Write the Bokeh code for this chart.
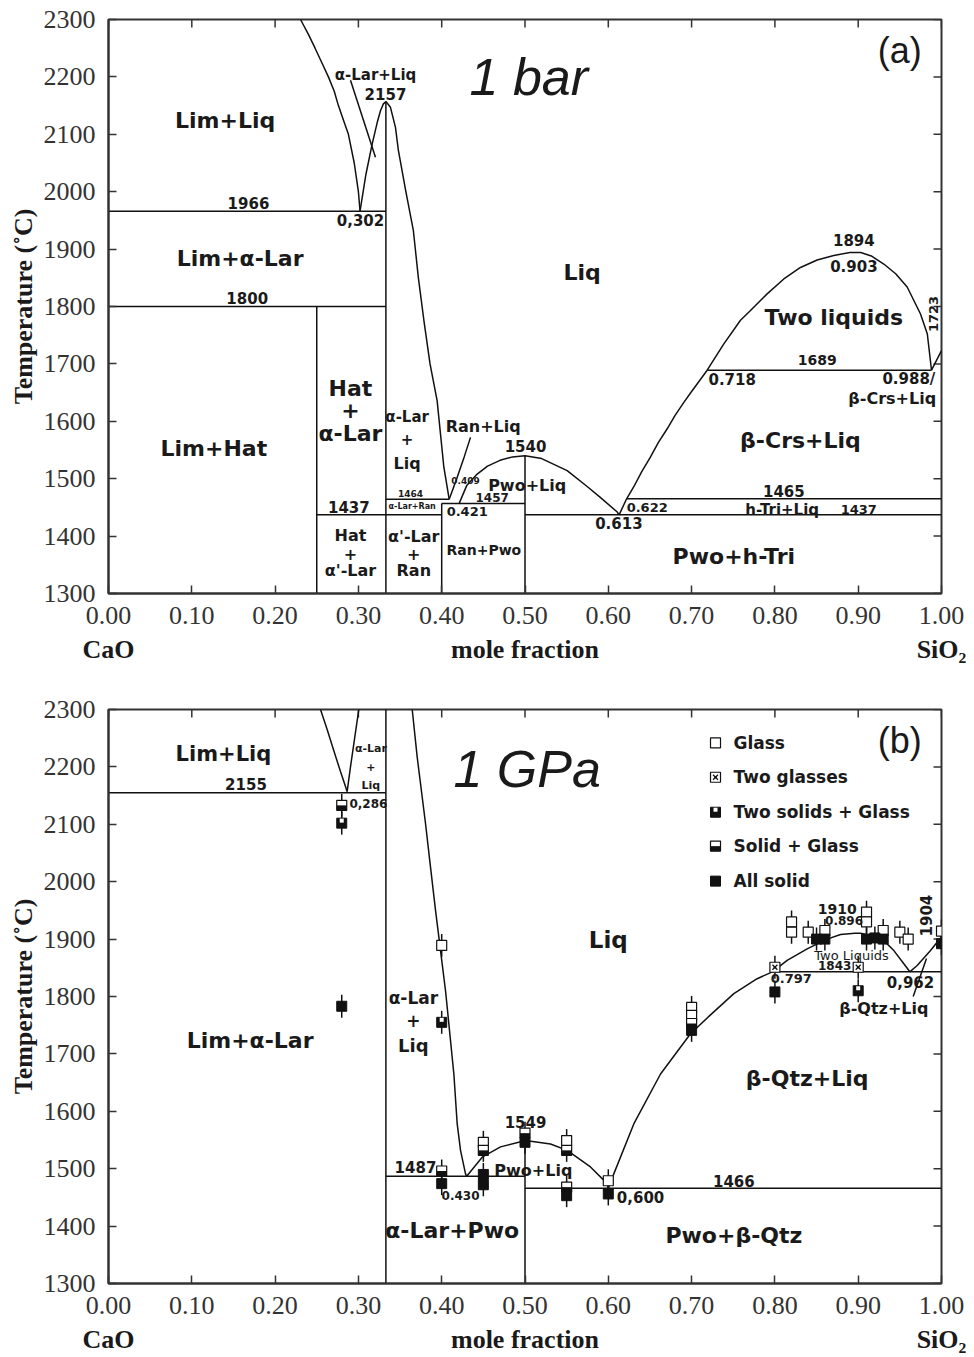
import numpy as np
from bokeh.plotting import figure
from bokeh.models import (LinearAxis, Label, ColumnDataSource, FixedTicker, NumeralTickFormatter,
                          Range1d, CustomJSTickFormatter)
from bokeh.layouts import column
from bokeh.embed import file_html
from bokeh.resources import INLINE
from bokeh.core.properties import value
from bokeh.transform import dodge

# ---------------- axes ----------------
X_TICKS = [0.0, 0.1, 0.2, 0.3, 0.4, 0.5, 0.6, 0.7, 0.8, 0.9, 1.0]
Y_TICKS = [1300, 1400, 1500, 1600, 1700, 1800, 1900, 2000, 2100, 2200, 2300]
X_MIN, X_MAX, T_MIN, T_MAX = 0.0, 1.0, 1300, 2300

# ---------------- panel (a): 1 bar ----------------
A_LIM_LIQ_X = [0.2305, 0.240, 0.248, 0.256, 0.264, 0.271, 0.276, 0.282, 0.288, 0.295, 0.300, 0.302]
A_LIM_LIQ_T = [2300, 2274, 2250, 2225, 2200, 2175, 2150, 2125, 2100, 2050, 2000, 1966]
A_LAR_LIQ_L_X = [0.302, 0.309, 0.3165, 0.3225, 0.3265, 0.3300, 0.3330]
A_LAR_LIQ_L_T = [1966, 2030, 2083, 2120, 2141, 2153, 2157]
A_LAR_LIQ_R_X = [0.3330, 0.3385, 0.3445, 0.3480, 0.3570, 0.3660, 0.3720, 0.3786, 0.3860, 0.3945, 0.4026, 0.4090]
A_LAR_LIQ_R_T = [2157, 2147, 2112, 2072, 2000, 1932, 1850, 1776, 1700, 1636, 1520, 1464]
A_RAN_LIQ_X = [0.409, 0.418, 0.427, 0.4346]
A_RAN_LIQ_T = [1464, 1500, 1538, 1572]
A_PWO_LIQ_X = [0.421, 0.430, 0.4426, 0.455, 0.470, 0.485, 0.500, 0.520, 0.5506, 0.575, 0.590, 0.6107, 0.613]
A_PWO_LIQ_T = [1457, 1488, 1508, 1522, 1532, 1538, 1540, 1535, 1514, 1486, 1468, 1442, 1437]
A_TRI_LIQ_X = [0.613, 0.622]
A_TRI_LIQ_T = [1437, 1465]
A_CRS_LIQ_X = [0.622, 0.6306, 0.640, 0.6507, 0.660, 0.6707, 0.680, 0.6907, 0.700, 0.7187]
A_CRS_LIQ_T = [1465, 1486, 1512, 1538, 1563, 1587, 1610, 1633, 1652, 1689]
A_GAP_X = [0.7187, 0.7387, 0.7587, 0.7707, 0.7907, 0.8107, 0.8307, 0.8507, 0.8707, 0.8900,
           0.903, 0.9157, 0.9307, 0.9450, 0.9588, 0.9748, 0.983, 0.988]
A_GAP_T = [1689, 1735, 1776, 1793, 1822, 1848, 1868, 1881, 1889, 1894,
           1894, 1888, 1874, 1857, 1834, 1787, 1752, 1689]
A_CRS_LIQ2_X = [0.988, 0.994, 1.0]
A_CRS_LIQ2_T = [1689, 1706, 1723]
# straight boundaries (isotherms, compounds, leader)
A_SEG_X0 = [0.0, 0.0, 0.25, 0.333, 0.25, 0.333, 0.40, 0.40, 0.5, 0.5, 0.622, 0.7187, 0.2905]
A_SEG_T0 = [1966, 1800, 1300, 1300, 1437, 1464, 1300, 1457, 1300, 1437, 1465, 1689, 2194]
A_SEG_X1 = [0.333, 0.333, 0.25, 0.333, 0.40, 0.409, 0.40, 0.5, 0.5, 1.0, 1.0, 0.988, 0.3205]
A_SEG_T1 = [1966, 1800, 1800, 2157, 1437, 1464, 1457, 1457, 1540, 1437, 1465, 1689, 2060]

A_LABELS = [
    (0.140, 2124, "Lim+Liq", 22), (0.3205, 2204, "α-Lar+Liq", 15), (0.3325, 2171, "2157", 15),
    (0.168, 1981, "1966", 15), (0.3025, 1950, "0,302", 15), (0.158, 1883, "Lim+α-Lar", 22),
    (0.1665, 1814, "1800", 15), (0.5686, 1860, "Liq", 22), (0.8948, 1915, "1894", 15),
    (0.8948, 1871, "0.903", 15), (0.8708, 1781, "Two liquids", 22), (0.8508, 1706, "1689", 14),
    (0.7487, 1674, "0.718", 15), (0.9608, 1674, "0.988/", 15), (0.9408, 1639, "β-Crs+Liq", 16),
    (0.8307, 1566, "β-Crs+Liq", 22), (0.8107, 1479, "1465", 15), (0.8087, 1446, "h-Tri+Liq", 15),
    (0.9007, 1447, "1437", 13), (0.6467, 1449, "0.622", 13), (0.6127, 1422, "0.613", 15),
    (0.7507, 1364, "Pwo+h-Tri", 22), (0.1265, 1552, "Lim+Hat", 22),
    (0.2905, 1658, "Hat", 22), (0.2905, 1619, "+", 22), (0.2905, 1578, "α-Lar", 22),
    (0.3585, 1607, "α-Lar", 15), (0.3585, 1569, "+", 15), (0.3585, 1527, "Liq", 16),
    (0.4498, 1591, "Ran+Liq", 16), (0.5006, 1557, "1540", 15), (0.4286, 1497, "0.409", 9),
    (0.5026, 1489, "Pwo+Liq", 16), (0.3625, 1475, "1464", 9), (0.3646, 1452, "α-Lar+Ran", 8),
    (0.4606, 1468, "1457", 12), (0.4306, 1443, "0.421", 13), (0.2885, 1450, "1437", 15),
    (0.2905, 1401, "Hat", 16), (0.2905, 1369, "+", 16), (0.2905, 1340, "α'-Lar", 16),
    (0.3665, 1400, "α'-Lar", 16), (0.3665, 1369, "+", 16), (0.3665, 1340, "Ran", 16),
    (0.4506, 1375, "Ran+Pwo", 14),
]
A_VLABELS = [(0.9908, 1787, "1723", 13)]

# ---------------- panel (b): 1 GPa ----------------
B_LIM_LIQ_X = [0.2545, 0.2625, 0.2705, 0.2785, 0.2865]
B_LIM_LIQ_T = [2300, 2265, 2228, 2192, 2157]
B_LAR_LIQ_L_X = [0.2865, 0.2905, 0.2945, 0.2985, 0.3005]
B_LAR_LIQ_L_T = [2157, 2200, 2240, 2280, 2300]
B_LAR_LIQ_R_X = [0.3646, 0.3706, 0.3806, 0.3866, 0.3926, 0.3986, 0.4046, 0.4086, 0.4146, 0.4186, 0.4226, 0.4286, 0.4300]
B_LAR_LIQ_R_T = [2300, 2217, 2101, 2025, 1950, 1880, 1810, 1752, 1665, 1578, 1532, 1491, 1487]
B_PWO_LIQ_X = [0.430, 0.4486, 0.4706, 0.5006, 0.5306, 0.5506, 0.5786, 0.5987, 0.600]
B_PWO_LIQ_T = [1487, 1520, 1538, 1549, 1543, 1532, 1503, 1474, 1466]
B_QTZ_LIQ_X = [0.600, 0.6066, 0.6306, 0.6627, 0.6987, 0.7227, 0.7507, 0.7787, 0.797]
B_QTZ_LIQ_T = [1466, 1491, 1578, 1665, 1735, 1768, 1805, 1831, 1843]
B_GAP_X = [0.797, 0.8147, 0.8387, 0.8627, 0.8788, 0.896, 0.9028, 0.9268, 0.9428, 0.9548, 0.962]
B_GAP_T = [1843, 1863, 1883, 1900, 1908, 1910, 1910, 1903, 1880, 1857, 1843]
B_CRS_LIQ_X = [0.962, 0.9708, 0.9868, 1.0]
B_CRS_LIQ_T = [1843, 1854, 1880, 1904]
B_SEG_X0 = [0.0, 0.333, 0.333, 0.5, 0.5, 0.797, 0.966]
B_SEG_T0 = [2155, 1300, 1487, 1300, 1466, 1843, 1800]
B_SEG_X1 = [0.333, 0.333, 0.5, 0.5, 1.0, 1.0, 0.982]
B_SEG_T1 = [2155, 2300, 1487, 1549, 1466, 1843, 1866]

# experiments (mole fraction SiO2, T in C), error +-20 C
ERR_T = 20
GLASS_X = [0.40, 0.45, 0.55, 0.60, 0.70, 0.70, 0.82, 0.82, 0.84, 0.86, 0.91, 0.91, 0.93, 0.95, 0.96, 1.00]
GLASS_T = [1889, 1546, 1549, 1479, 1781, 1767, 1930, 1912, 1912, 1915, 1947, 1930, 1915, 1912, 1900, 1914]
TWO_GLASS_X = [0.80, 0.90]
TWO_GLASS_T = [1851, 1851]
TWO_SOLID_X = [0.28, 0.40, 0.90]
TWO_SOLID_T = [2102, 1755, 1810]
SOLID_GLASS_X = [0.28, 0.40, 0.45, 0.50, 0.55, 0.55, 0.70]
SOLID_GLASS_T = [2133, 1496, 1532, 1562, 1532, 1468, 1753]
ALL_SOLID_X = [0.28, 0.40, 0.45, 0.45, 0.50, 0.55, 0.60, 0.70, 0.80, 0.85, 0.86, 0.91, 0.92, 0.93, 1.00]
ALL_SOLID_T = [1783, 1474, 1490, 1472, 1546, 1453, 1456, 1741, 1808, 1900, 1900, 1900, 1902, 1900, 1892]

LEGEND_KINDS = ["glass", "two_glass", "two_solid", "solid_glass", "all_solid"]
LEGEND_TEXT = ["Glass", "Two glasses", "Two solids + Glass", "Solid + Glass", "All solid"]
LEGEND_X = 0.7287                       # swatch column (data x)
LEGEND_TEXT_X = 0.7503
LEGEND_T = [2242, 2182, 2121, 2062, 2001]  # row positions (data T)

B_LABELS = [
    (0.138, 2223, "Lim+Liq", 21), (0.165, 2170, "2155", 15),
    (0.315, 2232, "α-Lar", 11), (0.315, 2200, "+", 11), (0.315, 2168, "Liq", 11),
    (0.312, 2136, "0,286", 12), (0.60, 1898, "Liq", 23),
    (0.366, 1798, "α-Lar", 17), (0.366, 1758, "+", 17), (0.366, 1715, "Liq", 18),
    (0.17, 1724, "Lim+α-Lar", 22), (0.5006, 1582, "1549", 15), (0.3685, 1503, "1487", 15),
    (0.4226, 1453, "0.430", 12), (0.51, 1497, "Pwo+Liq", 16), (0.4126, 1392, "α-Lar+Pwo", 22),
    (0.6387, 1450, "0,600", 15), (0.7507, 1479, "1466", 15), (0.7507, 1384, "Pwo+β-Qtz", 22),
    (0.8387, 1657, "β-Qtz+Liq", 22), (0.9308, 1779, "β-Qtz+Liq", 16), (0.9628, 1825, "0,962", 15),
    (0.8197, 1831, "0.797", 13), (0.8748, 1953, "1910", 14), (0.883, 1932, "0.896", 12),
    (0.8718, 1854, "1843", 12),
]
B_THIN_LABELS = [(0.892, 1872, "Two Liquids", 13)]
B_VLABELS = [(0.981, 1941, "1904", 15)]

LINE_C = "#111111"
TEXT_C = "#1a1a1a"
AX_C = "#333333"


def style_axis(ax, standoff):
    ax.axis_line_color = AX_C
    ax.axis_line_width = 2
    ax.major_tick_in = 8
    ax.major_tick_out = 0
    ax.major_tick_line_color = AX_C
    ax.major_tick_line_width = 1.5
    ax.minor_tick_line_color = None
    ax.major_label_text_font = "Liberation Serif"
    ax.major_label_text_font_size = "26px"
    ax.major_label_text_color = AX_C
    ax.major_label_standoff = standoff


def make_fig(top, bottom):
    p = figure(frame_width=833, frame_height=574, x_range=Range1d(X_MIN, X_MAX),
               y_range=Range1d(T_MIN, T_MAX),
               output_backend="svg", toolbar_location=None, min_border_left=108, min_border_right=30,
               min_border_top=top, min_border_bottom=bottom, background_fill_color="white",
               border_fill_color="white", outline_line_color=AX_C, outline_line_width=2)
    p.grid.visible = False
    xb = p.below[0]
    xb.ticker = FixedTicker(ticks=X_TICKS)
    xb.formatter = NumeralTickFormatter(format="0.00")
    style_axis(xb, 13)
    yl = p.left[0]
    yl.ticker = FixedTicker(ticks=Y_TICKS)
    style_axis(yl, 13)
    yl.axis_label = "Temperature (˚C)"
    yl.axis_label_text_font = "Liberation Serif"
    yl.axis_label_text_font_style = "bold"
    yl.axis_label_text_font_size = "26px"
    yl.axis_label_text_color = TEXT_C
    yl.axis_label_standoff = 3
    # second bottom row: component names and axis title on one line
    names = LinearAxis(ticker=FixedTicker(ticks=[X_MIN, 0.5, X_MAX]),
                       formatter=CustomJSTickFormatter(
                           code="return tick < 0.25 ? 'CaO' : (tick > 0.75 ? 'SiO\u2082' : 'mole fraction');"))
    names.axis_line_color = None
    names.major_tick_line_color = None
    names.minor_tick_line_color = None
    names.major_tick_in = 0
    names.major_tick_out = 0
    names.major_label_standoff = 8
    names.major_label_text_font = "Liberation Serif"
    names.major_label_text_font_style = "bold"
    names.major_label_text_font_size = "26px"
    names.major_label_text_color = TEXT_C
    p.add_layout(names, "below")
    # inward ticks on the top and right frame edges (clipped half-dashes)
    p.scatter(X_TICKS, [T_MAX] * len(X_TICKS), marker="dash", angle=np.pi / 2, size=16,
              line_color=AX_C, line_width=1.5)
    p.scatter([X_MAX] * len(Y_TICKS), Y_TICKS, marker="dash", size=16, line_color=AX_C, line_width=1.5)
    return p


def add_lines(p, curves, sx0, st0, sx1, st1):
    p.segment(x0=sx0, y0=st0, x1=sx1, y1=st1, line_color=LINE_C, line_width=1.5)
    for cx, ct in curves:
        p.line(cx, ct, line_color=LINE_C, line_width=1.5)


def add_labels(p, labels, style="bold", angle=0.0, font="DejaVu Sans", align="center"):
    src = ColumnDataSource(dict(x=[l[0] for l in labels], y=[l[1] for l in labels],
                                text=[l[2] for l in labels], size=[f"{l[3]}px" for l in labels]))
    p.text(x="x", y="y", text="text", source=src, text_font=value(font), text_font_style=style,
           text_font_size="size", text_align=align, text_baseline="middle",
           text_color=TEXT_C, angle=angle)


MS = 10


def draw_markers(p, kind, xs, ts):
    src = ColumnDataSource(dict(x=xs, T=ts))
    if kind == "glass":
        p.scatter("x", "T", source=src, marker="square", size=MS, fill_color="white",
                  line_color=LINE_C, line_width=1.2)
    elif kind == "two_glass":
        p.scatter("x", "T", source=src, marker="square", size=MS, fill_color="white",
                  line_color=LINE_C, line_width=1.2)
        p.scatter("x", "T", source=src, marker="x", size=MS - 3, line_color=LINE_C, line_width=1.2)
        p.scatter("x", "T", source=src, marker="dot", size=MS, line_color=LINE_C, fill_color=LINE_C)
    elif kind == "two_solid":
        p.scatter("x", "T", source=src, marker="square", size=MS, fill_color=LINE_C, line_color=LINE_C)
        p.scatter("x", dodge("T", 4.4, range=p.y_range), source=src, marker="square", size=4,
                  fill_color="white", line_color=None)
    elif kind == "solid_glass":
        p.scatter("x", "T", source=src, marker="square", size=MS, fill_color="white",
                  line_color=LINE_C, line_width=1.2)
        p.scatter("x", dodge("T", -4.4, range=p.y_range), source=src, marker="dash", size=MS,
                  line_color=LINE_C, line_width=5)
    else:
        p.scatter("x", "T", source=src, marker="square", size=MS, fill_color=LINE_C, line_color=LINE_C)


# ---------------- build panel (a) ----------------
pa = make_fig(19, 85)
add_lines(pa, [(A_LIM_LIQ_X, A_LIM_LIQ_T), (A_LAR_LIQ_L_X, A_LAR_LIQ_L_T), (A_LAR_LIQ_R_X, A_LAR_LIQ_R_T),
               (A_RAN_LIQ_X, A_RAN_LIQ_T), (A_PWO_LIQ_X, A_PWO_LIQ_T), (A_TRI_LIQ_X, A_TRI_LIQ_T),
               (A_CRS_LIQ_X, A_CRS_LIQ_T), (A_GAP_X, A_GAP_T), (A_CRS_LIQ2_X, A_CRS_LIQ2_T)],
          A_SEG_X0, A_SEG_T0, A_SEG_X1, A_SEG_T1)
add_labels(pa, A_LABELS)
add_labels(pa, A_VLABELS, angle=np.pi / 2)
pa.add_layout(Label(x=0.5046, y=2199, text="1 bar", text_font="Liberation Sans", text_font_style="italic",
                    text_font_size="52px", text_align="center", text_baseline="middle", text_color=TEXT_C))
pa.add_layout(Label(x=0.95, y=2246, text="(a)", text_font="Liberation Sans",
                    text_font_size="36px", text_align="center", text_baseline="middle", text_color=TEXT_C))

# ---------------- build panel (b) ----------------
pb = make_fig(31, 72)
add_lines(pb, [(B_LIM_LIQ_X, B_LIM_LIQ_T), (B_LAR_LIQ_L_X, B_LAR_LIQ_L_T), (B_LAR_LIQ_R_X, B_LAR_LIQ_R_T),
               (B_PWO_LIQ_X, B_PWO_LIQ_T), (B_QTZ_LIQ_X, B_QTZ_LIQ_T), (B_GAP_X, B_GAP_T),
               (B_CRS_LIQ_X, B_CRS_LIQ_T)],
          B_SEG_X0, B_SEG_T0, B_SEG_X1, B_SEG_T1)

all_x = GLASS_X + TWO_GLASS_X + TWO_SOLID_X + SOLID_GLASS_X + ALL_SOLID_X
all_t = GLASS_T + TWO_GLASS_T + TWO_SOLID_T + SOLID_GLASS_T + ALL_SOLID_T
pb.segment(x0=all_x, y0=[t - ERR_T for t in all_t], x1=all_x, y1=[t + ERR_T for t in all_t],
           line_color=LINE_C, line_width=1.5)
draw_markers(pb, "glass", GLASS_X, GLASS_T)
draw_markers(pb, "two_glass", TWO_GLASS_X, TWO_GLASS_T)
draw_markers(pb, "two_solid", TWO_SOLID_X, TWO_SOLID_T)
draw_markers(pb, "solid_glass", SOLID_GLASS_X, SOLID_GLASS_T)
draw_markers(pb, "all_solid", ALL_SOLID_X, ALL_SOLID_T)

# legend (swatches drawn with the same marker recipes)
for kind, t in zip(LEGEND_KINDS, LEGEND_T):
    draw_markers(pb, kind, [LEGEND_X], [t])
add_labels(pb, [(LEGEND_TEXT_X, t, s, 17) for t, s in zip(LEGEND_T, LEGEND_TEXT)], align="left")

add_labels(pb, B_LABELS)
add_labels(pb, B_THIN_LABELS, style="normal")
add_labels(pb, B_VLABELS, angle=np.pi / 2)
pb.add_layout(Label(x=0.5026, y=2197, text="1 GPa", text_font="Liberation Sans", text_font_style="italic",
                    text_font_size="52px", text_align="center", text_baseline="middle", text_color=TEXT_C))
pb.add_layout(Label(x=0.95, y=2246, text="(b)", text_font="Liberation Sans",
                    text_font_size="36px", text_align="center", text_baseline="middle", text_color=TEXT_C))

layout = column(pa, pb)
open("out.html", "w").write(file_html(layout, INLINE))
